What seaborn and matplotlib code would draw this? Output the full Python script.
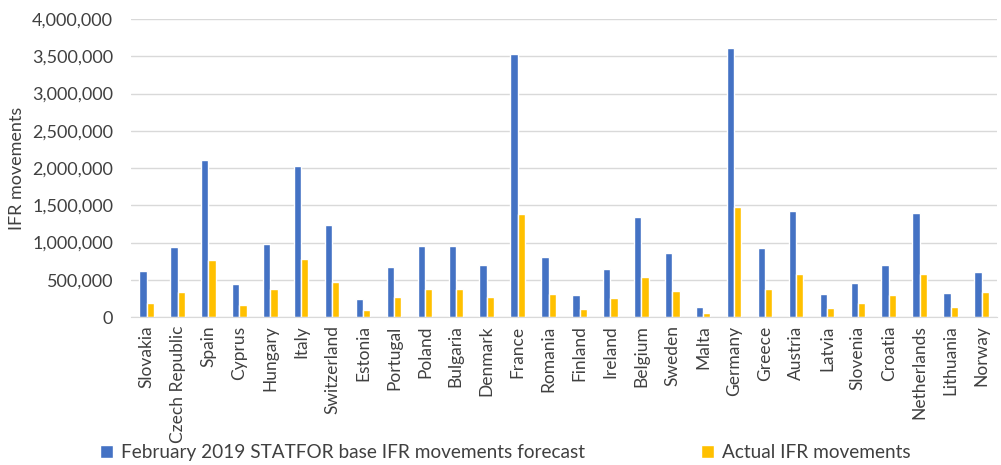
import matplotlib
matplotlib.use("Agg")
import matplotlib.pyplot as plt
import matplotlib.ticker as mticker
import pandas as pd
import seaborn as sns

# Datos
paises = ['Slovakia', 'Czech Republic', 'Spain', 'Cyprus', 'Hungary', 'Italy',
          'Switzerland', 'Estonia', 'Portugal', 'Poland', 'Bulgaria', 'Denmark',
          'France', 'Romania', 'Finland', 'Ireland', 'Belgium', 'Sweden', 'Malta',
          'Germany', 'Greece', 'Austria', 'Latvia', 'Slovenia', 'Croatia',
          'Netherlands', 'Lithuania', 'Norway']
prevision = [620000, 940000, 2115000, 440000, 985000, 2025000,
             1235000, 242000, 676000, 955000, 950000, 694000,
             3525000, 805000, 291000, 650000, 1338000, 859000, 140000,
             3615000, 926000, 1419000, 309000, 456000, 703000,
             1392000, 318000, 600000]
real = [190000, 336000, 770000, 166000, 372000, 779000,
        470000, 90000, 264000, 372000, 372000, 274000,
        1383000, 309000, 112000, 255000, 537000, 345000, 50000,
        1472000, 372000, 582000, 126000, 188000, 291000,
        582000, 140000, 336000]
serie_prev = 'February 2019 STATFOR base IFR movements forecast'
serie_real = 'Actual IFR movements'

df = pd.DataFrame({
    'Pais': paises * 2,
    'Valor': prevision + real,
    'Serie': [serie_prev] * len(paises) + [serie_real] * len(paises),
})

sns.set_style("white")
plt.rcParams['font.family'] = ['Lato', 'DejaVu Sans']

fig = plt.figure(figsize=(10.01, 4.65), dpi=100)
ax = fig.add_axes([0.131, 0.318, 0.865, 0.641])

sns.barplot(data=df, x='Pais', y='Valor', hue='Serie', ax=ax,
            palette=['#4472C4', '#FFC000'], saturation=1,
            width=0.47, gap=0, errorbar=None)

ax.set_ylim(0, 4000000)
ax.set_yticks(range(0, 4000001, 500000))
ax.yaxis.set_major_formatter(mticker.FuncFormatter(lambda v, p: f'{int(v):,}'))
ax.grid(axis='y', color='#D9D9D9', linewidth=1)
ax.set_axisbelow(True)
for s in ['top', 'right', 'left']:
    ax.spines[s].set_visible(False)
ax.spines['bottom'].set_color('#D9D9D9')
ax.tick_params(axis='both', length=0, colors='#404040')
ax.tick_params(axis='y', labelsize=13, pad=13)
ax.tick_params(axis='x', labelsize=12.5, rotation=90, pad=6)
ax.set_xlabel('')
ax.set_ylabel('IFR movements', fontsize=13, color='#404040', labelpad=5)

sns.move_legend(ax, 'center left', bbox_to_anchor=(0.083, 0.026),
                bbox_transform=fig.transFigure, ncol=2, title=None,
                frameon=False, fontsize=13.7, handlelength=0.65,
                handleheight=0.65, handletextpad=0.45, columnspacing=6.1)
for t in ax.get_legend().get_texts():
    t.set_color('#404040')

fig.savefig('out.png', dpi=100)
